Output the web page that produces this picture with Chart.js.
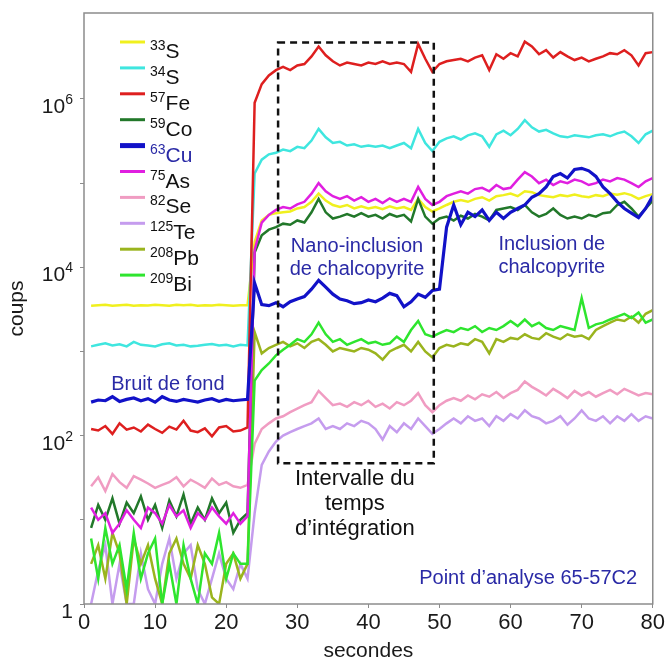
<!DOCTYPE html>
<html lang="fr">
<head>
<meta charset="UTF-8">
<title>Signal LA-ICP-MS | 65-57C2</title>
<script src="https://cdn.jsdelivr.net/npm/chart.js"></script>
<style>
  html, body { margin: 0; padding: 0; background: #fff; }
  .chart-box { width: 667px; height: 664px; position: relative; }
</style>
</head>
<body>
<div class="chart-box"><canvas id="graficaSignal"></canvas></div>
<script>
// --- Données (coups par seconde) ---
const secondes = [
  1, 2, 3, 4, 5, 6, 7, 8, 9, 10,
  11, 12, 13, 14, 15, 16, 17, 18, 19, 20,
  21, 22, 23, 24, 25, 26, 27, 28, 29, 30,
  31, 32, 33, 34, 35, 36, 37, 38, 39, 40,
  41, 42, 43, 44, 45, 46, 47, 48, 49, 50,
  51, 52, 53, 54, 55, 56, 57, 58, 59, 60,
  61, 62, 63, 64, 65, 66, 67, 68, 69, 70,
  71, 72, 73, 74, 75, 76, 77, 78, 79, 80
];

const s33 = [
  3500, 3550, 3600, 3500, 3550, 3600, 3500, 3550, 3520, 3600,
  3550, 3500, 3580, 3550, 3600, 3500, 3550, 3520, 3580, 3550,
  3500, 3550, 3550, 2.0e4, 3.6e4, 4.2e4, 4.4e4, 4.5e4, 4.6e4, 5.0e4,
  5.2e4, 6.0e4, 7.5e4, 6.2e4, 5.5e4, 5.2e4, 5.5e4, 5.0e4, 5.3e4, 5.0e4,
  5.2e4, 4.9e4, 5.3e4, 5.0e4, 5.2e4, 4.8e4, 6.5e4, 5.2e4, 4.6e4, 5.0e4,
  5.5e4, 6.0e4, 6.3e4, 6.0e4, 6.5e4, 6.8e4, 6.2e4, 7.0e4, 7.2e4, 7.5e4,
  7.0e4, 8.0e4, 7.8e4, 7.2e4, 7.0e4, 6.8e4, 7.2e4, 7.0e4, 7.3e4, 7.0e4,
  6.8e4, 7.2e4, 7.0e4, 7.5e4, 7.3e4, 7.6e4, 7.2e4, 6.5e4, 7.0e4, 7.4e4
];
const s34 = [
  1150, 1200, 1250, 1180, 1220, 1150, 1300, 1200, 1180, 1150,
  1220, 1250, 1180, 1200, 1150, 1170, 1200, 1230, 1180, 1200,
  1150, 1200, 1180, 1.3e5, 1.9e5, 2.2e5, 2.3e5, 2.5e5, 2.4e5, 2.7e5,
  2.6e5, 3.2e5, 4.4e5, 3.5e5, 3.0e5, 3.1e5, 2.8e5, 2.9e5, 2.7e5, 2.8e5,
  2.7e5, 2.8e5, 2.6e5, 2.8e5, 3.0e5, 2.6e5, 4.4e5, 3.0e5, 2.4e5, 3.1e5,
  3.4e5, 3.6e5, 3.3e5, 3.7e5, 3.9e5, 3.6e5, 2.7e5, 3.8e5, 4.2e5, 3.7e5,
  4.4e5, 5.6e5, 4.6e5, 4.1e5, 4.3e5, 3.9e5, 3.6e5, 3.5e5, 3.7e5, 3.6e5,
  3.5e5, 3.7e5, 3.8e5, 3.6e5, 3.9e5, 4.1e5, 3.6e5, 3.0e5, 3.8e5, 4.2e5
];
const fe57 = [
  120, 115, 130, 105, 140, 118, 125, 112, 135, 120,
  108, 128, 118, 150, 115, 110, 122, 98, 125, 130,
  112, 115, 125, 9e5, 1.5e6, 1.9e6, 2.2e6, 2.4e6, 2.2e6, 2.5e6,
  2.6e6, 3.2e6, 4.2e6, 3.3e6, 2.8e6, 2.5e6, 2.7e6, 2.6e6, 2.5e6, 2.7e6,
  2.6e6, 2.8e6, 2.6e6, 2.7e6, 2.6e6, 2.1e6, 4.5e6, 3.0e6, 2.1e6, 2.6e6,
  2.8e6, 2.9e6, 3.0e6, 2.8e6, 3.1e6, 3.3e6, 2.2e6, 3.4e6, 3.0e6, 3.5e6,
  3.2e6, 4.8e6, 4.2e6, 3.4e6, 3.8e6, 3.1e6, 3.6e6, 3.2e6, 2.9e6, 3.1e6,
  2.8e6, 3.0e6, 3.2e6, 3.5e6, 3.4e6, 3.8e6, 3.3e6, 2.5e6, 3.5e6, 3.6e6
];
const co59 = [
  8, 15, 10, 18, 9, 16, 12, 19, 10, 15,
  8, 17, 11, 20, 9, 14, 10, 18, 12, 16,
  7, 10, 12, 1.5e4, 2.4e4, 2.8e4, 3.0e4, 3.3e4, 3.2e4, 3.6e4,
  3.4e4, 4.5e4, 6.5e4, 4.5e4, 3.8e4, 4.0e4, 4.3e4, 4.0e4, 4.4e4, 4.0e4,
  4.2e4, 3.8e4, 4.3e4, 4.0e4, 4.2e4, 3.5e4, 6.5e4, 4.0e4, 3.3e4, 3.8e4,
  4.0e4, 3.6e4, 4.1e4, 3.8e4, 4.3e4, 4.0e4, 3.6e4, 4.8e4, 5.0e4, 5.2e4,
  4.8e4, 5.5e4, 4.5e4, 4.0e4, 4.3e4, 5.0e4, 4.2e4, 3.8e4, 4.0e4, 3.8e4,
  4.2e4, 4.0e4, 4.4e4, 4.5e4, 5.5e4, 6.0e4, 5.0e4, 4.0e4, 5.0e4, 6.2e4
];
const cu63 = [
  250, 265, 260, 290, 255, 270, 280, 260, 275, 250,
  290, 265, 255, 270, 260, 250, 265, 275, 255, 270,
  260, 265, 270, 6.5e3, 3.6e3, 3.5e3, 3.8e3, 3.4e3, 3.9e3, 4.2e3,
  4.5e3, 5.5e3, 7.0e3, 5.8e3, 4.8e3, 4.2e3, 4.0e3, 3.7e3, 3.8e3, 4.1e3,
  3.9e3, 4.3e3, 4.9e3, 4.6e3, 3.4e3, 3.9e3, 4.8e3, 4.4e3, 5.3e3, 5.5e3,
  3.0e4, 5.5e4, 3.2e4, 4.5e4, 4.0e4, 4.8e4, 3.6e4, 4.5e4, 3.8e4, 4.5e4,
  5.0e4, 5.5e4, 6.8e4, 7.5e4, 9.0e4, 1.2e5, 1.3e5, 1.15e5, 1.45e5, 1.5e5,
  1.4e5, 1.2e5, 9.0e4, 7.5e4, 6.0e4, 5.0e4, 4.4e4, 3.9e4, 5.0e4, 7.0e4
];
const as75 = [
  14, 10, 12, 7, 9, 13, 10, 8, 14, 12,
  9, 15, 11, 13, 8, 12, 10, 14, 11, 9,
  12, 9, 11, 1.6e4, 3.4e4, 4.2e4, 4.8e4, 5.2e4, 5.0e4, 5.6e4,
  6.0e4, 7.5e4, 1.0e5, 8.0e4, 7.0e4, 6.5e4, 7.0e4, 6.2e4, 6.8e4, 6.0e4,
  6.5e4, 5.8e4, 6.6e4, 6.0e4, 6.5e4, 6.0e4, 9.0e4, 6.5e4, 5.5e4, 6.0e4,
  7.0e4, 7.5e4, 8.0e4, 7.5e4, 8.5e4, 8.8e4, 8.0e4, 9.5e4, 8.5e4, 8.8e4,
  1.1e5, 1.35e5, 1.2e5, 1.0e5, 1.1e5, 9.5e4, 1.05e5, 1.0e5, 1.1e5, 1.05e5,
  9.5e4, 1.0e5, 1.1e5, 1.05e5, 1.15e5, 1.1e5, 1.0e5, 9.0e4, 1.05e5, 1.15e5
];
const se82 = [
  25, 32, 22, 35, 28, 24, 33, 30, 27, 24,
  26, 28, 32, 25, 30, 27, 24, 31, 26, 28,
  25, 24, 26, 80, 120, 140, 160, 170, 190, 210,
  230, 250, 340, 280, 230, 240, 220, 250, 230, 260,
  220, 240, 210, 250, 230, 260, 320, 230, 190, 230,
  260, 280, 260, 300, 270, 310, 290, 330, 280, 320,
  350, 440, 380, 340, 300, 360, 320, 280, 340, 300,
  330, 290, 320, 350, 310, 360, 330, 300, 320, 310
];
const te125 = [
  1, 2.5, 5, 1, 3, 1, 1, 4, 1.5, 1,
  3, 6, 2, 4, 5, 1.5, 1, 2, 4, 2,
  1.5, 3, 2, 12, 45, 65, 85, 100, 110, 120,
  130, 140, 160, 120, 130, 120, 140, 130, 150, 140,
  120, 90, 130, 110, 140, 120, 160, 130, 105, 120,
  140, 160, 140, 170, 150, 160, 130, 170, 150, 180,
  160, 200, 170, 160, 140, 150, 170, 135, 160, 200,
  160, 150, 170, 140, 170, 150, 180, 150, 170, 160
];
const pb208 = [
  3, 5, 2, 7, 4, 1, 6, 3, 5, 2,
  1, 4, 6, 3, 2, 5, 3, 1.2, 1, 3,
  4, 2, 3, 1700, 950, 1100, 1200, 1300, 1150, 1250,
  1100, 1300, 1400, 1200, 1000, 1100, 1050, 1000, 1100, 1050,
  950, 800, 1000, 1100, 1200, 1000, 1300, 1000, 850, 1100,
  1200, 1150, 1250, 1200, 1400, 1300, 950, 1400, 1300, 1450,
  1400, 1600, 1450, 1400, 1650, 1500, 1400, 1600, 1500, 1550,
  1400, 1800, 2000, 2200, 2400, 2300, 2600, 2200, 2800, 3100
];
const bi209 = [
  6, 2, 8, 3, 5, 1.5, 7, 2, 4, 6,
  1, 3, 1, 5, 2, 1, 4, 3, 7, 2,
  4, 3, 3, 450, 600, 720, 900, 1050, 1200, 1400,
  1300, 1600, 2200, 1600, 1300, 1400, 1200, 1300, 1400, 1250,
  1300, 1200, 1250, 1500, 1300, 1800, 2300, 1600, 1500, 1650,
  1800, 1700, 1900, 1800, 2000, 1700, 1900, 1800, 2000, 2300,
  2000, 2400, 2000, 2200, 1900, 1800, 2000, 1900, 1800, 4300,
  1900, 2100, 2200, 2400, 2600, 2800, 2500, 2900, 2200, 2400
];

// isotopes (légende)
const masses = ['33', '34', '57', '59', '63', '75', '82', '125', '208', '209'];
const elements = ['S', 'S', 'Fe', 'Co', 'Cu', 'As', 'Se', 'Te', 'Pb', 'Bi'];
const valeurs = [s33, s34, fe57, co59, cu63, as75, se82, te125, pb208, bi209];
const couleurs = ['#f0f01e', '#3fe6df', '#de1f1f', '#22782a', '#1212c8',
                  '#e01fe0', '#f09cc2', '#c59cee', '#9ab41e', '#2ee52e'];
const epaisseurs = [2.5, 2.5, 2.5, 2.5, 3.2, 2.5, 2.5, 2.5, 2.5, 2.5];
const ordre = [6, 5, 4, 3, 0, 1, 8, 9, 7, 2];

// graduations log
const decades = [1, 10, 100, 1e3, 1e4, 1e5, 1e6];
const etiquettesY = [1, 1e2, 1e4, 1e6];

// intervalle du temps d'intégration
const intervalleTemps = [27.3, 49.2];
const intervalleCoups = [47, 4.7e6];

const BLEU = '#2a2aa6';
const notes = [
  { t: 11.8, c: 400, lignes: ['Bruit de fond'], couleur: BLEU, taille: 20, pas: 23, align: 'center' },
  { t: 38.4, c: 1.75e4, lignes: ['Nano-inclusion', 'de chalcopyrite'], couleur: BLEU, taille: 20, pas: 23, align: 'center' },
  { t: 65.8, c: 1.85e4, lignes: ['Inclusion de', 'chalcopyrite'], couleur: BLEU, taille: 20, pas: 23, align: 'center' },
  { t: 38.1, c: 31, lignes: ['Intervalle du', 'temps', 'd\u2019intégration'], couleur: '#111', taille: 22, pas: 25, align: 'center' },
  { t: 77.8, c: 2.0, lignes: ['Point d\u2019analyse 65-57C2'], couleur: BLEU, taille: 20, pas: 22, align: 'right' }
];

const POLICE = '"Liberation Sans", Arial, Helvetica, sans-serif';
Chart.defaults.font.family = POLICE;
Chart.defaults.color = '#1a1a1a';

// --- Cadre, légende, annotations ---
const decorPlugin = {
  id: 'decor',
  afterDatasetsDraw(chart) {
    const { ctx, chartArea: a, scales: { x, y } } = chart;
    ctx.save();

    // rectangle pointillé
    ctx.setLineDash([7, 5]);
    ctx.lineWidth = 2.5;
    ctx.strokeStyle = '#111';
    const x0 = x.getPixelForValue(intervalleTemps[0]);
    const x1 = x.getPixelForValue(intervalleTemps[1]);
    const y0 = y.getPixelForValue(intervalleCoups[1]);
    const y1 = y.getPixelForValue(intervalleCoups[0]);
    ctx.strokeRect(x0, y0, x1 - x0, y1 - y0);
    ctx.setLineDash([]);

    // annotations
    ctx.textBaseline = 'middle';
    notes.forEach(n => {
      ctx.font = n.taille + 'px ' + POLICE;
      ctx.fillStyle = n.couleur;
      ctx.textAlign = n.align;
      const px = x.getPixelForValue(n.t);
      const py = y.getPixelForValue(n.c);
      n.lignes.forEach((l, k) => ctx.fillText(l, px, py + k * n.pas));
    });

    // légende
    ctx.textAlign = 'left';
    ctx.textBaseline = 'alphabetic';
    masses.forEach((m, i) => {
      const sy = a.top + 29 + i * 25.9;
      ctx.strokeStyle = couleurs[i];
      ctx.lineWidth = i === 4 ? 5 : 3;
      ctx.beginPath();
      ctx.moveTo(a.left + 36, sy);
      ctx.lineTo(a.left + 61, sy);
      ctx.stroke();
      ctx.fillStyle = i === 4 ? BLEU : '#111';
      ctx.font = '14px ' + POLICE;
      const tx = a.left + 66;
      ctx.fillText(m, tx, sy + 8);
      const w = ctx.measureText(m).width;
      ctx.font = '21px ' + POLICE;
      ctx.fillText(elements[i], tx + w, sy + 16);
    });
    ctx.restore();
  },
  afterDraw(chart) {
    const { ctx, chartArea: a, scales: { y } } = chart;
    ctx.save();
    ctx.strokeStyle = '#8c8c8c';
    ctx.lineWidth = 1.5;
    ctx.strokeRect(a.left, a.top, a.right - a.left, a.bottom - a.top);

    // étiquettes de l'axe y avec exposants
    ctx.fillStyle = '#1a1a1a';
    ctx.textAlign = 'right';
    ctx.textBaseline = 'alphabetic';
    const droite = a.left - 11;
    etiquettesY.forEach(v => {
      const py = y.getPixelForValue(v);
      const e = Math.round(Math.log10(v));
      if (e === 0) {
        ctx.font = '21px ' + POLICE;
        ctx.fillText('1', droite, py + 14);
        return;
      }
      ctx.font = '14px ' + POLICE;
      const exp = String(e);
      ctx.fillText(exp, droite, py + 5);
      const w = ctx.measureText(exp).width;
      ctx.font = '21px ' + POLICE;
      ctx.fillText('10', droite - w, py + 14);
    });
    ctx.restore();
  }
};

// --- Graphique ---
new Chart(document.getElementById('graficaSignal'), {
  type: 'line',
  data: {
    datasets: valeurs.map((serie, i) => ({
      label: masses[i] + elements[i],
      data: secondes.map((t, k) => ({ x: t, y: serie[k] })),
      borderColor: couleurs[i],
      borderWidth: epaisseurs[i],
      pointRadius: 0,
      tension: 0,
      fill: false,
      order: ordre[i]
    }))
  },
  options: {
    responsive: true,
    maintainAspectRatio: false,
    animation: false,
    layout: { padding: { top: 13, right: 14, left: 0, bottom: 0 } },
    plugins: { legend: { display: false }, tooltip: { enabled: false } },
    scales: {
      x: {
        type: 'linear',
        min: 0,
        max: 80,
        afterFit(scale) { scale.height = 60; },
        ticks: { stepSize: 10, font: { size: 22 }, color: '#1a1a1a', padding: 2, maxRotation: 0 },
        grid: { drawOnChartArea: false, tickLength: 4, color: '#8c8c8c' },
        border: { display: false },
        title: { display: true, text: 'secondes', font: { size: 21 }, color: '#1a1a1a', padding: { top: 0, bottom: 0 } }
      },
      y: {
        type: 'logarithmic',
        min: 1,
        max: 1.05e7,
        afterFit(scale) { scale.width = 84; },
        afterBuildTicks(scale) { scale.ticks = decades.map(v => ({ value: v })); },
        ticks: { callback: () => '' },
        grid: { drawOnChartArea: false, tickLength: 4, color: '#8c8c8c' },
        border: { display: false },
        title: { display: true, text: 'coups', font: { size: 21 }, color: '#1a1a1a', padding: { top: 5, bottom: 0 } }
      }
    }
  },
  plugins: [decorPlugin]
});
</script>
</body>
</html>
